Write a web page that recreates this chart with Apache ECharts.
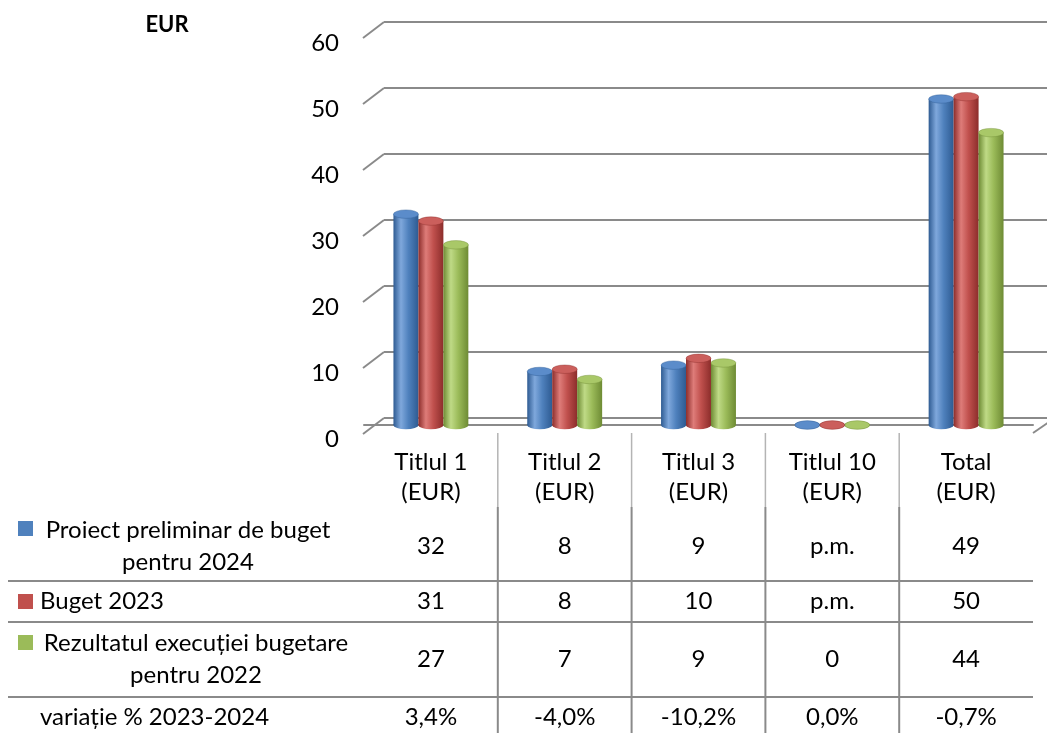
<!DOCTYPE html>
<html>
<head>
<meta charset="utf-8">
<script src="https://cdn.jsdelivr.net/npm/echarts@6/dist/echarts.min.js"></script>
<style>
  html, body { margin: 0; padding: 0; background: #fff; }
  #chart { width: 1047px; height: 733px; }
</style>
</head>
<body>
<div id="chart"></div>
<script>
// data
const categories = ['Titlul 1\n(EUR)', 'Titlul 2\n(EUR)', 'Titlul 3\n(EUR)', 'Titlul 10\n(EUR)', 'Total\n(EUR)'];
const seriesNames = ['Proiect preliminar de buget\npentru 2024', 'Buget 2023', 'Rezultatul execuției bugetare\npentru 2022'];
const proiect2024 = [31.95, 8.11, 9.07, 0, 49.4];
const buget2023 = [30.9, 8.45, 10.1, 0, 49.75];
const rezultat2022 = [27.3, 6.9, 9.4, 0, 44.3];
const tableProiect = ['32', '8', '9', 'p.m.', '49'];
const tableBuget = ['31', '8', '10', 'p.m.', '50'];
const tableRezultat = ['27', '7', '9', '0', '44'];
const variatieLabel = 'variație % 2023-2024';
const variatie = ['3,4%', '-4,0%', '-10,2%', '0,0%', '-0,7%'];
const yTicks = [0, 10, 20, 30, 40, 50, 60];
const unitLabel = 'EUR';

const FONT = 'Lato';
const FS = 24;
const GRID_COLOR = '#8a8a8a';
const palette = [
  { base: '#4F81BD', light: '#7FA8DC', dark: '#2E5B92', top: '#5B8CCA' },
  { base: '#C0504D', light: '#DE7C79', dark: '#8C2D2B', top: '#CB5F5C' },
  { base: '#9BBB59', light: '#BFDA86', dark: '#6E8B34', top: '#A9C868' }
];
const allValues = [proiect2024, buget2023, rezultat2022];
const tableRows = [tableProiect, tableBuget, tableRezultat, variatie];

const chart = echarts.init(document.getElementById('chart'), null, { renderer: 'canvas' });

const barShare = 25 / 134;
function renderCylinder(params, api) {
  const s = params.seriesIndex;
  const pal = palette[s];
  const base = api.coord([api.value(0), 0]);
  const top = api.coord([api.value(0), api.value(1)]);
  const band = api.size([1, 0])[0];
  const w = band * barShare;
  const r = w / 2;
  const cx = base[0] + (s - 1) * w;
  const side = new echarts.graphic.LinearGradient(0, 0, 1, 0, [
    { offset: 0, color: pal.dark },
    { offset: 0.3, color: pal.light },
    { offset: 0.6, color: pal.base },
    { offset: 1, color: pal.dark }
  ]);
  return {
    type: 'group',
    children: [
      { type: 'circle', shape: { cx: 0, cy: 0, r: r }, x: cx, y: base[1], scaleY: 0.34, style: { fill: side } },
      { type: 'rect', shape: { x: cx - r, y: top[1], width: w, height: base[1] - top[1] }, style: { fill: side } },
      { type: 'circle', shape: { cx: 0, cy: 0, r: r }, x: cx, y: top[1], scaleY: 0.34,
        style: { fill: pal.top, stroke: pal.dark, lineWidth: 0.6 } }
    ]
  };
}

const option = {
  backgroundColor: '#fff',
  animation: false,
  textStyle: { fontFamily: FONT },
  grid: [
    { left: 384, right: 0, top: 22, height: 396 },   // back wall
    { left: 364, width: 669, top: 29, height: 396 }   // bars
  ],
  xAxis: [
    { gridIndex: 0, type: 'category', data: categories, show: false },
    {
      gridIndex: 1, type: 'category', data: categories, offset: 8,
      axisLine: { lineStyle: { color: GRID_COLOR, width: 2 } },
      axisTick: { show: false },
      axisLabel: { color: '#000', fontSize: FS, lineHeight: 30, margin: 14, fontFamily: FONT }
    }
  ],
  yAxis: [
    {
      gridIndex: 0, type: 'value', min: 0, max: 60, interval: 10,
      axisLine: { show: false }, axisTick: { show: false },
      splitLine: { lineStyle: { color: GRID_COLOR, width: 2 } },
      axisLabel: { color: '#000', fontSize: FS, margin: 45, verticalAlign: 'top', lineHeight: 42, fontFamily: FONT }
    },
    { gridIndex: 1, type: 'value', min: 0, max: 60, show: false }
  ],
  series: allValues.map((vals, s) => ({
    name: seriesNames[s],
    type: 'custom',
    xAxisIndex: 1,
    yAxisIndex: 1,
    renderItem: renderCylinder,
    encode: { x: 0, y: 1 },
    data: vals.map((v, i) => [i, v]),
    z: 3
  }))
};
chart.setOption(option);

// decoration: 3D wall edges, table lines and texts
const graphics = [];
const backLeft = 384;
yTicks.forEach(v => {
  const y = chart.convertToPixel({ yAxisIndex: 0 }, v);
  graphics.push({ type: 'line', shape: { x1: backLeft, y1: y, x2: backLeft - 21, y2: y + 16 },
    style: { stroke: GRID_COLOR, lineWidth: 2 } });
});
const c0 = chart.convertToPixel({ xAxisIndex: 1 }, 0);
const c1 = chart.convertToPixel({ xAxisIndex: 1 }, 1);
const band = c1 - c0;
const floorY = 433;
const headerBottom = 507;
const tableRight = c0 - band / 2 + band * categories.length;
graphics.push({ type: 'line', shape: { x1: tableRight, y1: floorY, x2: tableRight + 16, y2: floorY - 11 },
  style: { stroke: GRID_COLOR, lineWidth: 2 } });
for (let k = 1; k < categories.length; k++) {
  const x = c0 - band / 2 + band * k;
  graphics.push({ type: 'line', shape: { x1: x, y1: floorY, x2: x, y2: headerBottom },
    style: { stroke: '#b4b4b4', lineWidth: 1.5 } });
  graphics.push({ type: 'line', shape: { x1: x, y1: headerBottom, x2: x, y2: 733 },
    style: { stroke: GRID_COLOR, lineWidth: 2 } });
}
[581, 622, 697].forEach(y => {
  graphics.push({ type: 'line', shape: { x1: 8, y1: y, x2: tableRight, y2: y },
    style: { stroke: GRID_COLOR, lineWidth: 2 } });
});
const rowY = [546, 601, 659, 717];
tableRows.forEach((row, r) => {
  row.forEach((t, i) => {
    graphics.push({ type: 'text', x: chart.convertToPixel({ xAxisIndex: 1 }, i), y: rowY[r],
      style: { text: t, fill: '#000', font: FS + 'px ' + FONT, align: 'center', verticalAlign: 'middle' } });
  });
});
// legend keys + row labels
const keyY = [521, 594, 635];
keyY.forEach((y, s) => {
  graphics.push({ type: 'rect', shape: { x: 18, y: y, width: 15, height: 15 }, style: { fill: palette[s].base } });
});
graphics.push({ type: 'text', x: 188, y: 546,
  style: { text: seriesNames[0], fill: '#000', font: FS + 'px ' + FONT, align: 'center', verticalAlign: 'middle', lineHeight: 32 } });
graphics.push({ type: 'text', x: 40, y: 601,
  style: { text: seriesNames[1], fill: '#000', font: FS + 'px ' + FONT, align: 'left', verticalAlign: 'middle' } });
graphics.push({ type: 'text', x: 196, y: 659,
  style: { text: seriesNames[2], fill: '#000', font: FS + 'px ' + FONT, align: 'center', verticalAlign: 'middle', lineHeight: 32 } });
graphics.push({ type: 'text', x: 40, y: 717,
  style: { text: variatieLabel, fill: '#000', font: FS + 'px ' + FONT, align: 'left', verticalAlign: 'middle' } });
graphics.push({ type: 'text', x: 167, y: 25,
  style: { text: unitLabel, fill: '#000', font: 'bold 22px ' + FONT, align: 'center', verticalAlign: 'middle' } });

chart.setOption({ graphic: graphics });
</script>
</body>
</html>
